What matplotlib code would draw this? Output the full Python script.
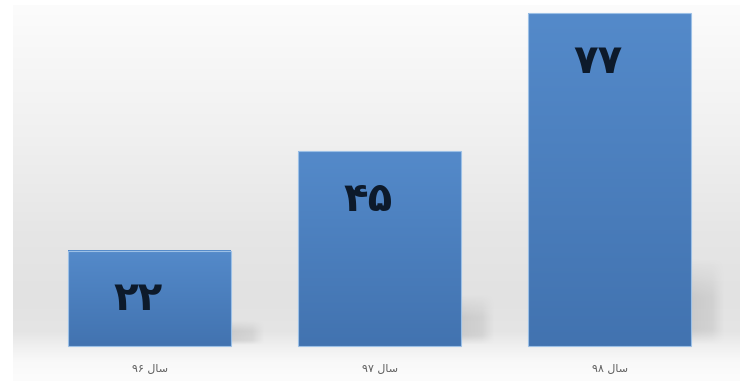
import numpy as np
import matplotlib
matplotlib.use("Agg")
import matplotlib.pyplot as plt
from matplotlib.patches import Rectangle

# ---- data -------------------------------------------------------------
categories = ["سال ۹۶", "سال ۹۷", "سال ۹۸"]
values = [22, 45, 77]

# ---- helpers for right-to-left text -----------------------------------
PERSIAN_DIGITS = str.maketrans("0123456789", "۰۱۲۳۴۵۶۷۸۹")

# contextual forms: isolated, final, initial, medial, joins-to-next
FORMS = {
    "س": ("\uFEB1", "\uFEB2", "\uFEB3", "\uFEB4", True),
    "ا": ("\uFE8D", "\uFE8E", "\uFE8D", "\uFE8E", False),
    "ل": ("\uFEDD", "\uFEDE", "\uFEDF", "\uFEE0", True),
}


def shape_word(word):
    out = []
    for i, ch in enumerate(word):
        if ch not in FORMS:
            out.append(ch)
            continue
        prev = word[i - 1] if i > 0 else None
        nxt = word[i + 1] if i + 1 < len(word) else None
        join_prev = prev in FORMS and FORMS[prev][4]
        join_next = FORMS[ch][4] and nxt in FORMS
        iso, fin, ini, med, _ = FORMS[ch]
        if join_prev and join_next:
            out.append(med)
        elif join_prev:
            out.append(fin)
        elif join_next:
            out.append(ini)
        else:
            out.append(iso)
    return "".join(reversed(out))


def visual(text):
    # words in reverse order; digit runs stay left-to-right
    words = text.split(" ")
    shaped = [w if w[0] in "۰۱۲۳۴۵۶۷۸۹" else shape_word(w) for w in words]
    return " ".join(reversed(shaped))


# ---- figure -----------------------------------------------------------
W, H = 740, 381
fig = plt.figure(figsize=(W / 100, H / 100), dpi=100)
fig.patch.set_facecolor("white")

# background wall gradient
bg = fig.add_axes([13 / W, 0, 1 - 13 / W, 1 - 5 / H])
bg.set_axis_off()
ys = np.linspace(0, 1, 400)  # 0 = top
stops_y = [0.0, 0.08, 0.35, 0.60, 0.78, 0.87, 0.91, 0.95, 1.0]
stops_v = [252, 249, 240, 230, 226, 229, 240, 249, 252]
col = np.interp(ys, stops_y, stops_v) / 255.0
grad = np.repeat(col[:, None], 2, axis=1)
bg.imshow(np.dstack([grad, grad, grad]), aspect="auto", extent=[0, 1, 0, 1])
bg.set_xlim(0, 1)
bg.set_ylim(0, 1)

# main axes: baseline at y=346 px, 4.325 px per unit
px_per_unit = 333 / 77
base_px = 346
spacing_px = 230
first_center_px = 149.5
ax = fig.add_axes([0, 0, 1, 1])
ax.set_axis_off()
ax.patch.set_alpha(0)

x = np.arange(len(values))
bar_w = 163 / spacing_px
shadow_w = 36 / spacing_px

# soft shadows behind the bars, on the right side
for xi, v in zip(x, values):
    x0 = xi + bar_w / 2 - 0.01
    top = v * 0.26
    ny, nx = 60, 40
    yy = np.linspace(1, 0, ny)[:, None]
    xx = np.linspace(0, 1, nx)[None, :]
    a_y = np.clip(np.minimum(yy / 0.18, (1 - yy) / 0.45), 0, 1)
    a_x = np.clip((1 - xx) / 0.35, 0, 1) * (0.55 + 0.45 * (1 - xx))
    alpha = 0.22 * a_y * a_x
    rgba = np.zeros((ny, nx, 4))
    rgba[..., :3] = 0.45
    rgba[..., 3] = alpha
    ax.imshow(rgba, extent=[x0, x0 + shadow_w, 0.3, top + 0.3],
              aspect="auto", zorder=1, interpolation="bilinear")

# bars with a vertical blue gradient
top_c = np.array([84, 138, 202]) / 255
bot_c = np.array([66, 115, 176]) / 255
bars = ax.bar(x, values, width=bar_w, color="none", edgecolor="none", zorder=2)
for b in bars:
    bx, by = b.get_x(), b.get_y()
    bw, bh = b.get_width(), b.get_height()
    t = np.linspace(0, 1, 100)[:, None]
    colors = top_c * (1 - t) + bot_c * t
    img = np.repeat(colors[:, None, :], 2, axis=1)
    ax.imshow(img, extent=[bx, bx + bw, by, by + bh], aspect="auto",
              zorder=3, interpolation="bilinear")
    ax.add_patch(Rectangle((bx, by), bw, bh, fill=False,
                           edgecolor="#9cc0e6", linewidth=0.8, zorder=4))

ax.set_xlim(-first_center_px / spacing_px, (W - first_center_px) / spacing_px)
ax.set_ylim(-(H - base_px) / px_per_unit, base_px / px_per_unit)

# value labels near the top of each bar
for xi, v in zip(x, values):
    ax.annotate(str(v).translate(PERSIAN_DIGITS), (xi, v),
                xytext=(-8, -35), textcoords="offset points",
                ha="center", va="center", fontsize=29, fontweight="bold",
                color="#0d1a2b", family="DejaVu Sans", zorder=5)

# category labels under the bars
for xi, c in zip(x, categories):
    ax.annotate(visual(c), (xi, 0), xytext=(0, -16), textcoords="offset points",
                ha="center", va="center", fontsize=8, color="#606060",
                family="DejaVu Sans", zorder=5)

fig.savefig("out.png", dpi=100, facecolor="white")
